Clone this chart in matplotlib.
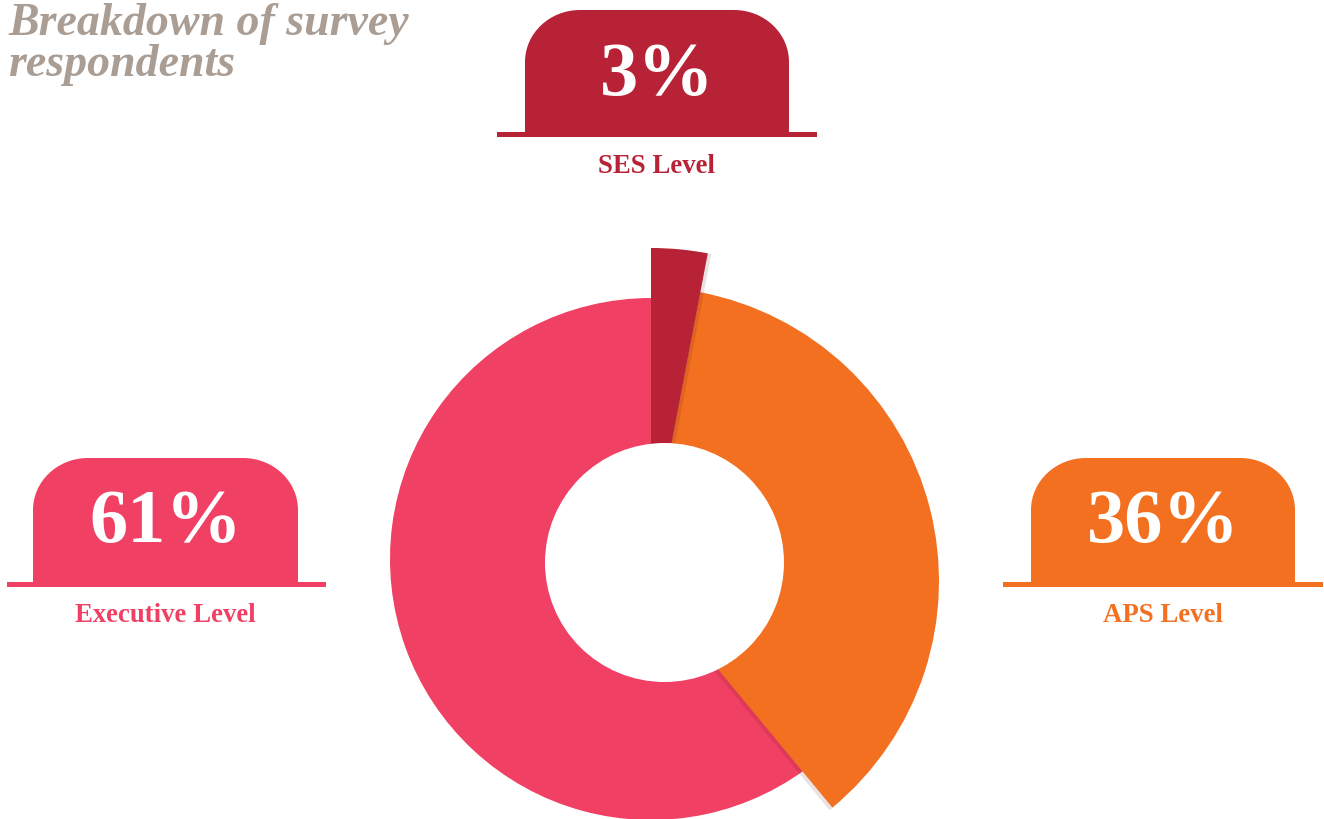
import matplotlib
matplotlib.use("Agg")
import matplotlib.pyplot as plt
import matplotlib.patheffects as pe
from matplotlib.patches import PathPatch, Rectangle, Circle
from matplotlib.path import Path

levels = ['SES Level', 'APS Level', 'Executive Level']
shares = [3, 36, 61]
colors = ['#B82236', '#F37021', '#F04063']
title_lines = ['Breakdown of survey', 'respondents']

W, H = 1324, 819
SERIF = 'Liberation Serif'

fig = plt.figure(figsize=(W / 100, H / 100), dpi=100)
ax = fig.add_axes([0, 0, 1, 1])

wedges, _ = ax.pie(shares, colors=colors, startangle=90, counterclock=False,
                   wedgeprops=dict(linewidth=0))

# every slice sits on its own centre / radius (pixels, y up)
geom = [((651, 268), 303), ((645, 238), 294), ((651, 260), 261)]
zs = [3, 2, 1]
shadows = [(2.5, -0.5), (-2, -2), None]
for w, (c, r), z, sh in zip(wedges, geom, zs, shadows):
    w.set_center(c)
    w.set_radius(r)
    w.set_zorder(z)
    if sh:
        w.set_path_effects([pe.SimplePatchShadow(offset=sh, shadow_rgbFace='#5a1020', alpha=0.12),
                            pe.Normal()])

ax.add_patch(Circle((664.5, 256.5), 119.5, facecolor='white', edgecolor='none', zorder=5))


def tab_path(x0, x1, yb, yt, rx=55, ry=52):
    k = 0.5523
    verts = [(x0, yb), (x0, yt - ry),
             (x0, yt - ry + k * ry), (x0 + rx - k * rx, yt), (x0 + rx, yt),
             (x1 - rx, yt),
             (x1 - rx + k * rx, yt), (x1, yt - ry + k * ry), (x1, yt - ry),
             (x1, yb), (x0, yb)]
    codes = [Path.MOVETO, Path.LINETO,
             Path.CURVE4, Path.CURVE4, Path.CURVE4,
             Path.LINETO,
             Path.CURVE4, Path.CURVE4, Path.CURVE4,
             Path.LINETO, Path.CLOSEPOLY]
    return Path(verts, codes)


# tab boxes: body x0, x1, bottom, top, bar x0, x1, number baseline, label baseline
tabs = [
    (525, 789, 686, 809, 497, 817, 724, 646),
    (1031, 1295, 236, 361, 1003, 1323, 277, 197),
    (33, 298, 236, 361, 7, 326, 277, 197),
]

for (x0, x1, yb, yt, bx0, bx1, ny, ly), lab, val, col in zip(tabs, levels, shares, colors):
    ax.add_patch(PathPatch(tab_path(x0, x1, yb, yt), facecolor=col, edgecolor='none', zorder=6))
    ax.add_patch(Rectangle((bx0, yb - 4), bx1 - bx0, 5.5, facecolor=col, edgecolor='none', zorder=6))
    cx = (x0 + x1) / 2
    ax.text(cx, ny, f'{val}%', color='white', fontsize=55, family=SERIF, fontweight='bold',
            ha='center', va='baseline', zorder=7)
    ax.text(cx, ly, lab, color=col, fontsize=19.3, family=SERIF, fontweight='bold',
            ha='center', va='baseline', zorder=7)

ax.text(8, H - 35, title_lines[0], color='#A99D94', fontsize=33, family=SERIF,
        fontweight='bold', fontstyle='italic', va='baseline')
ax.text(8, H - 76, title_lines[1], color='#A99D94', fontsize=33, family=SERIF,
        fontweight='bold', fontstyle='italic', va='baseline')

ax.set_xlim(0, W)
ax.set_ylim(0, H)
ax.set_aspect('equal')
ax.axis('off')

fig.savefig('out.png', dpi=100)
